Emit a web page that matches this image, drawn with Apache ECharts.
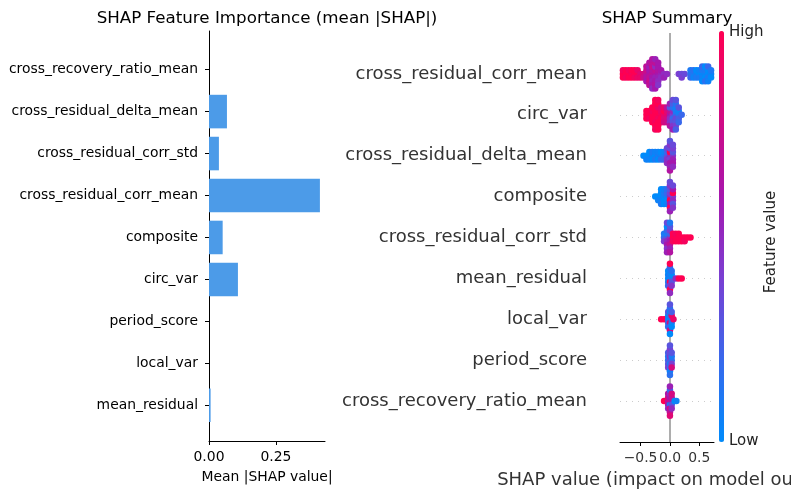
<!DOCTYPE html>
<html>
<head>
<meta charset="utf-8">
<title>SHAP</title>
<script src="https://cdn.jsdelivr.net/npm/echarts@6/dist/echarts.min.js"></script>
<style>
html, body { margin: 0; padding: 0; background: #fff; }
#chart { width: 791px; height: 499px; }
</style>
</head>
<body>
<div id="chart"></div>
<script>
// left panel: mean |SHAP| per feature, listed top to bottom
const importanceFeatures = [
  'cross_recovery_ratio_mean', 'cross_residual_delta_mean', 'cross_residual_corr_std',
  'cross_residual_corr_mean', 'composite', 'circ_var', 'period_score', 'local_var', 'mean_residual'
]
const importanceValues = [0, 0.067, 0.037, 0.414, 0.051, 0.108, 0, 0, 0.006]
const importanceTicks = [0, 0.25]

// right panel: beeswarm rows, top to bottom
const summaryFeatures = [
  'cross_residual_corr_mean', 'circ_var', 'cross_residual_delta_mean', 'composite',
  'cross_residual_corr_std', 'mean_residual', 'local_var', 'period_score', 'cross_recovery_ratio_mean'
]
const summaryTicks = [-0.5, 0, 0.5]

// each point: [shap value, feature value scaled 0 (low) .. 1 (high)]
const corrMeanPoints = [
  [-0.80,1],[-0.80,1],[-0.80,0.95],[-0.75,1],[-0.75,0.95],[-0.75,1],
  [-0.70,1],[-0.70,1],[-0.70,0.95],[-0.65,0.95],[-0.65,1],[-0.65,1],
  [-0.60,1],[-0.60,0.95],[-0.60,1],[-0.55,1],[-0.55,0.9],[-0.55,0.9],
  [-0.50,0.85],[-0.50,0.9],[-0.45,0.8],[-0.45,0.75],
  [-0.40,0.7],[-0.40,0.65],[-0.40,0.75],[-0.40,0.6],[-0.40,0.7],
  [-0.35,0.65],[-0.35,0.7],[-0.35,0.6],[-0.35,0.75],[-0.35,0.55],[-0.35,0.7],[-0.35,0.65],
  [-0.30,0.7],[-0.30,0.6],[-0.30,0.65],[-0.30,0.55],[-0.30,0.75],[-0.30,0.6],[-0.30,0.7],[-0.30,0.5],[-0.30,0.65],
  [-0.25,0.65],[-0.25,0.55],[-0.25,0.7],[-0.25,0.6],[-0.25,0.5],[-0.25,0.65],[-0.25,0.7],[-0.25,0.6],[-0.25,0.55],
  [-0.20,0.6],[-0.20,0.55],[-0.20,0.65],[-0.20,0.5],[-0.20,0.6],[-0.20,0.45],[-0.20,0.6],
  [-0.15,0.55],[-0.15,0.5],[-0.15,0.6],[-0.10,0.5],[-0.10,0.55],[-0.05,0.5],
  [0.15,0.4],[0.20,0.35],[0.20,0.4],[0.25,0.35],
  [0.35,0.15],[0.35,0.2],[0.35,0.1],[0.40,0.1],[0.40,0.05],[0.40,0.15],
  [0.45,0.05],[0.45,0.1],[0.45,0],[0.50,0],[0.50,0.1],[0.50,0.05],
  [0.55,0],[0.55,0.05],[0.55,0.1],[0.55,0],[0.55,0.2],
  [0.60,0.05],[0.60,0],[0.60,0.1],[0.60,0.15],[0.60,0],
  [0.65,0],[0.65,0.1],[0.65,0],[0.65,0.05],[0.65,0.2],
  [0.70,0.05],[0.70,0],[0.70,0.1]
]
const circVarPoints = [
  [-0.40,1],[-0.40,1],[-0.40,1],[-0.35,1],[-0.35,0.95],[-0.35,1],
  [-0.30,1],[-0.30,1],[-0.30,0.95],[-0.30,1],[-0.30,1],
  [-0.25,1],[-0.25,1],[-0.25,1],[-0.25,0.95],[-0.25,1],[-0.25,1],[-0.25,1],[-0.25,0.95],[-0.25,1],
  [-0.20,1],[-0.20,0.95],[-0.20,1],[-0.20,1],[-0.20,0.9],[-0.20,1],[-0.20,1],[-0.20,1],[-0.20,0.95],
  [-0.15,0.95],[-0.15,1],[-0.15,0.9],[-0.15,1],[-0.15,0.85],
  [-0.10,0.9],[-0.10,0.85],[-0.10,1],[-0.10,0.8],[-0.10,0.9],
  [-0.05,0.9],[-0.05,0.8],[-0.05,0.85],[-0.05,0.75],[-0.05,0.7],
  [0.00,0.6],[0.00,0.5],[0.00,0.7],[0.00,0.45],[0.00,0.3],[0.00,0.65],[0.00,0.55],
  [0.05,0.4],[0.05,0.2],[0.05,0.5],[0.05,0.3],[0.05,0.15],[0.05,0.45],[0.05,0.25],[0.05,0.55],[0.05,0.35],
  [0.10,0.2],[0.10,0.35],[0.10,0.1],[0.10,0.3],[0.10,0.05],[0.10,0.4],[0.10,0.15],[0.10,0.25],[0.10,0.3],
  [0.15,0.1],[0.15,0.25],[0.15,0.05],[0.15,0.2],[0.15,0.3],[0.20,0.2]
]
const deltaMeanPoints = [
  [-0.45,0],[-0.40,0],[-0.40,0.05],[-0.35,0],[-0.35,0.05],[-0.35,0],
  [-0.30,0.05],[-0.30,0],[-0.30,0.1],[-0.25,0],[-0.25,0.1],[-0.25,0.05],
  [-0.20,0.1],[-0.20,0],[-0.20,0.05],[-0.15,0.05],[-0.15,0.15],[-0.15,0],
  [-0.10,0.1],[-0.10,0.2],[-0.10,0.05],
  [-0.05,0.3],[-0.05,0.45],[-0.05,0.2],[-0.05,0.5],[-0.05,0.35],
  [0.00,0.5],[0.00,0.4],[0.00,1],[0.00,0.6],[0.00,0.35],[0.00,0.55],[0.00,0.45],[0.00,0.65],[0.00,0.3],
  [0.05,0.45],[0.05,0.55],[0.05,0.3],[0.05,0.6],[0.05,0.4],[0.05,0.5],[0.05,0.35]
]
const compositePoints = [
  [-0.25,0],[-0.20,0],[-0.20,0.05],
  [-0.15,0],[-0.15,0.05],[-0.15,0],[-0.15,0.1],[-0.15,0],
  [-0.10,0.05],[-0.10,0],[-0.10,0.1],[-0.10,0],[-0.10,0.05],
  [-0.05,0.1],[-0.05,0],[-0.05,0.2],[-0.05,0.05],[-0.05,0.15],
  [0.00,0.5],[0.00,1],[0.00,0.4],[0.00,0.6],[0.00,0.3],[0.00,1],[0.00,0.45],[0.00,0.55],[0.00,0.35],
  [0.05,0.4],[0.05,0.5],[0.05,1],[0.05,0.3],[0.05,0.6],[0.05,0.45],[0.05,0.35]
]
const corrStdPoints = [
  [-0.10,0.2],[-0.10,0.4],[-0.10,0.1],
  [-0.05,0.3],[-0.05,0.5],[-0.05,0.1],[-0.05,0.6],[-0.05,0.2],[-0.05,0.45],[-0.05,0],[-0.05,0.55],[-0.05,0.35],
  [0.00,0.5],[0.00,0.6],[0.00,0.2],[0.00,0.7],[0.00,0.4],[0.00,0.55],[0.00,0.3],[0.00,0.65],[0.00,0.1],
  [0.05,1],[0.05,0.95],[0.05,1],[0.10,1],[0.10,1],[0.10,0.95],[0.15,1],[0.15,1],[0.15,1],
  [0.20,1],[0.20,1],[0.25,1],[0.25,0.95],[0.30,1],[0.35,1]
]
const meanResidualPoints = [
  [-0.03,0],[-0.03,0.1],[-0.03,0.05],[-0.03,0.2],[-0.03,0],
  [0.00,0],[0.00,1],[0.00,0.1],[0.00,0.4],[0.00,0.05],[0.00,1],[0.00,0.2],[0.00,0.5],[0.00,1],
  [0.03,0.1],[0.03,0.3],[0.03,0],[0.03,0.45],[0.03,0.15],
  [0.10,0.5],[0.15,1],[0.20,1]
]
const localVarPoints = [
  [-0.15,1],[-0.10,1],[-0.06,1],
  [-0.03,0.1],[-0.03,0.2],[-0.03,0],[-0.03,0.15],[-0.03,0.3],
  [0.00,0],[0.00,0.8],[0.00,0.1],[0.00,0.2],[0.00,0.05],[0.00,0.8],[0.00,0.15],[0.00,0],[0.00,0.3],
  [0.03,0.2],[0.03,0.1],[0.03,0.9],[0.03,0],[0.03,0.25],[0.06,0.9]
]
const periodScorePoints = [
  [-0.03,0.2],[-0.03,0.3],[-0.03,0.1],[-0.03,0.4],[-0.03,0.25],
  [0.00,0.3],[0.00,0.1],[0.00,0.45],[0.00,0.2],[0.00,0.35],[0.00,0.05],[0.00,0.4],[0.00,0.15],[0.00,0.3],
  [0.03,0.2],[0.03,0.4],[0.03,0.1],[0.03,0.8],[0.03,0.3]
]
const recoveryPoints = [
  [-0.10,1],
  [-0.03,0.7],[-0.03,0.6],[-0.03,0.8],[-0.03,0.5],[-0.03,0.65],
  [0.00,0.75],[0.00,0.1],[0.00,0.6],[0.00,0.8],[0.00,0.5],[0.00,0.7],[0.00,0.2],[0.00,0.85],[0.00,0.55],
  [0.03,0.6],[0.03,0.3],[0.03,0.7],[0.03,0.5],[0.03,0.8],
  [0.08,0],[0.11,0.05]
]
const summaryRows = [
  corrMeanPoints, circVarPoints, deltaMeanPoints, compositePoints, corrStdPoints,
  meanResidualPoints, localVarPoints, periodScorePoints, recoveryPoints
]

const featureColors = ['#008bfb', '#3868ec', '#7a3fd2', '#a716ad', '#d40a80', '#ff0052']
const font = 'DejaVu Sans'

// beeswarm: points falling in the same bin are stacked alternately above / below the row
function swarm(points, row) {
  const layers = {}
  const ys = points.map(p => {
    const bin = Math.round(p[0] / 0.03)
    const layer = layers[bin] === undefined ? 0 : layers[bin] + 1
    layers[bin] = layer
    return Math.ceil(layer / 2) * ((layer % 2) * 2 - 1)
  })
  const maxY = Math.max(1, ...ys.map(Math.abs))
  return points.map((p, i) => [p[0], row + ys[i] * 0.36 / maxY, p[1]])
}

const swarmData = []
summaryRows.forEach((pts, row) => swarmData.push(...swarm(pts, row)))

const rowIndex = summaryFeatures.map((_, i) => i)

const chart = echarts.init(document.getElementById('chart'))
chart.setOption({
  animation: false,
  textStyle: { fontFamily: font },
  title: [
    {
      text: 'SHAP Feature Importance (mean |SHAP|)', left: 267, top: 10, padding: 0, textAlign: 'center',
      textStyle: { fontSize: 16.7, fontWeight: 'normal', color: '#000', fontFamily: font }
    },
    {
      text: 'SHAP Summary', left: 667, top: 10, padding: 0, textAlign: 'center',
      textStyle: { fontSize: 16.7, fontWeight: 'normal', color: '#000', fontFamily: font }
    }
  ],
  grid: [
    { left: 209, top: 31, width: 116, height: 410, outerBoundsMode: 'none', containLabel: false },
    { left: 620, top: 33, width: 94, height: 409, outerBoundsMode: 'none', containLabel: false }
  ],
  xAxis: [
    {
      gridIndex: 0, type: 'value', min: 0, max: 0.433,
      axisLine: { show: true, onZero: false, lineStyle: { color: '#000', width: 1 } },
      axisTick: { show: true, customValues: importanceTicks, length: 4, lineStyle: { color: '#000' } },
      axisLabel: { customValues: importanceTicks, formatter: v => v.toFixed(2), fontSize: 13.9, color: '#000', margin: 9 },
      splitLine: { show: false },
      name: 'Mean |SHAP value|', nameLocation: 'middle', nameGap: 29,
      nameTextStyle: { fontSize: 13.9, color: '#000' }
    },
    {
      gridIndex: 1, type: 'value', min: -0.85, max: 0.75,
      axisLine: { show: true, onZero: false, lineStyle: { color: '#000', width: 1 } },
      axisTick: { show: true, customValues: summaryTicks, length: 4, lineStyle: { color: '#000' } },
      axisLabel: {
        customValues: summaryTicks, fontSize: 13.9, color: '#333', margin: 9,
        formatter: v => (v < 0 ? '\u2212' : '') + Math.abs(v).toFixed(1)
      },
      splitLine: { show: false },
      name: 'SHAP value (impact on model output)', nameLocation: 'middle', nameGap: 29,
      nameTextStyle: { fontSize: 18, color: '#333' }
    }
  ],
  yAxis: [
    {
      gridIndex: 0, type: 'value', inverse: true, min: -0.92, max: 8.85,
      axisLine: { show: true, onZero: false, lineStyle: { color: '#000', width: 1 } },
      axisTick: { show: true, customValues: rowIndex, length: 4, lineStyle: { color: '#000' } },
      axisLabel: { customValues: rowIndex, formatter: v => importanceFeatures[v], fontSize: 13.9, color: '#000', margin: 11 },
      splitLine: { show: false }
    },
    {
      gridIndex: 1, type: 'value', inverse: true, min: -1, max: 9,
      axisLine: { show: false },
      axisTick: { show: false },
      axisLabel: { customValues: rowIndex, formatter: v => summaryFeatures[v], fontSize: 18, color: '#333', margin: 33 },
      splitLine: { show: false }
    }
  ],
  visualMap: {
    type: 'continuous', min: 0, max: 1, dimension: 2, seriesIndex: 2,
    orient: 'vertical', left: 719, top: 31, itemWidth: 5, itemHeight: 411, padding: 0,
    calculable: false, hoverLink: false,
    inRange: { color: featureColors }
  },
  series: [
    {
      type: 'custom', xAxisIndex: 0, yAxisIndex: 0,
      data: importanceValues.map((v, i) => [v, i]),
      renderItem: (params, api) => {
        const start = api.coord([0, api.value(1)])
        const end = api.coord([api.value(0), api.value(1)])
        const h = api.size([0, 0.8])[1]
        return {
          type: 'rect',
          shape: { x: start[0], y: start[1] - h / 2, width: end[0] - start[0], height: h },
          style: { fill: '#4c9be8' }
        }
      }
    },
    {
      // guide lines behind the swarm: dotted row lines and the zero line
      type: 'scatter', xAxisIndex: 1, yAxisIndex: 1, data: [], z: 1, silent: true,
      markLine: {
        silent: true, symbol: ['none', 'none'], label: { show: false }, animation: false,
        data: [
          ...rowIndex.map(i => ({ yAxis: i, lineStyle: { color: '#cccccc', width: 1, type: [1, 5] } })),
          { xAxis: 0, lineStyle: { color: '#999999', width: 1.6, type: 'solid' } }
        ]
      }
    },
    {
      type: 'scatter', xAxisIndex: 1, yAxisIndex: 1, z: 10,
      symbolSize: 6.5, itemStyle: { opacity: 1 }, data: swarmData
    }
  ],
  graphic: [
    { type: 'text', left: 729, top: 25, style: { text: 'High', font: '15px "DejaVu Sans"', fill: '#222' } },
    { type: 'text', left: 729, top: 434, style: { text: 'Low', font: '15px "DejaVu Sans"', fill: '#222' } },
    {
      type: 'text', x: 771, y: 242, rotation: Math.PI / 2,
      style: { text: 'Feature value', font: '15px "DejaVu Sans"', fill: '#222', align: 'center', verticalAlign: 'middle' }
    }
  ]
})
</script>
</body>
</html>
